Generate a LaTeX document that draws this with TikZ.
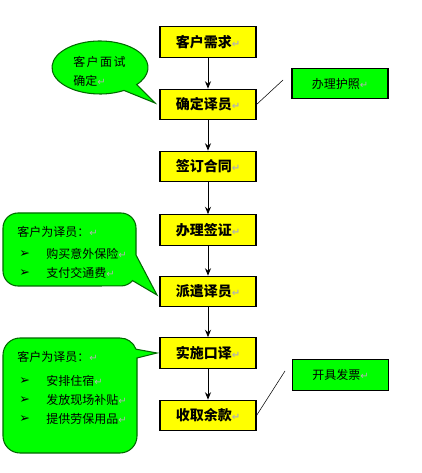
\documentclass[tikz,border=0pt]{standalone}
\usepackage{fontspec}
\usetikzlibrary{arrows.meta}
\newfontfamily\cjk{Noto Sans CJK SC}
\newfontfamily\symf{DejaVu Sans}
\definecolor{boxyellow}{RGB}{255,255,0}
\definecolor{taggreen}{RGB}{0,255,0}
\definecolor{rimgreen}{RGB}{0,105,0}
\newcommand{\pmk}{{\symf\fontsize{7.5}{7.5}\selectfont\color{gray!60}↵}}
\newcommand{\bul}{{\symf\fontsize{9.5}{9.5}\selectfont ➢}}
\tikzset{
  stepbox/.style={draw=black,line width=0.8pt,fill=boxyellow,minimum width=72pt,minimum height=23pt,inner sep=0pt,font=\cjk\bfseries\fontsize{10.5}{12}\selectfont},
  tagbox/.style={draw=black,line width=0.8pt,fill=taggreen,minimum width=72pt,minimum height=23pt,inner sep=0pt,font=\cjk\fontsize{9}{10}\selectfont},
  callout/.style={draw=rimgreen,line width=0.8pt,fill=taggreen},
  note/.style={anchor=west,inner sep=0pt,font=\cjk\fontsize{9}{10}\selectfont},
}
\begin{document}
\begin{tikzpicture}[x=0.75pt,y=-0.75pt,>={Stealth[length=5.5pt,width=4.5pt]}]
\useasboundingbox (0,0) rectangle (421,473);
% main flow
\node[stepbox] (need) at (208,42) {客户需求\pmk};
\node[stepbox] (pick) at (208,104.5) {确定译员\pmk};
\node[stepbox] (sign) at (208,166.5) {签订合同\pmk};
\node[stepbox] (visa) at (208,230) {办理签证\pmk};
\node[stepbox] (send) at (208,291.5) {派遣译员\pmk};
\node[stepbox] (work) at (208,353) {实施口译\pmk};
\node[stepbox] (rest) at (208,415.5) {收取余款\pmk};
\foreach \a/\b in {need/pick,pick/sign,sign/visa,visa/send,send/work,work/rest}
  \draw[->,line width=0.6pt] (\a) -- (\b);
% side tags
\node[tagbox] (passport) at (340,83.5) {办理护照\pmk};
\coordinate (pp) at (283,80);
\draw[line width=0.4pt] (pp) -- (pick.east);
\node[tagbox] (invoice) at (340.5,375) {开具发票\pmk};
\coordinate (iv) at (285,371);
\draw[line width=0.4pt] (iv) -- (rest.east);
% callouts
\draw[callout] (100,67.5) ++(60:48 and 26.5) arc[start angle=60,end angle=400,x radius=48,y radius=26.5] -- (155,103) -- cycle;
\node[note,font=\cjk\addfontfeature{LetterSpace=12}\fontsize{9}{10}\selectfont] (c1a) at (73,62) {客户面试};
\node[note] (c1b) at (73,81) {确定\pmk};
\draw[callout] (18,213) -- (121,213) arc[start angle=-90,end angle=0,radius=15] -- (136,255) -- (157,295) -- (132.5,280.6) arc[start angle=40,end angle=90,radius=15] -- (18,286) arc[start angle=90,end angle=180,radius=15] -- (3,228) arc[start angle=180,end angle=270,radius=15] -- cycle;
\node[note] (c2head) at (17,232) {客户为译员：\pmk};
\node[note] (c2b1) at (19,254) {\bul};
\node[note] (c2i1) at (46,254) {购买意外保险\pmk};
\node[note] (c2b2) at (19,273) {\bul};
\node[note] (c2i2) at (46,273) {支付交通费\pmk};
\draw[callout] (20,338) -- (120,338) arc[start angle=-90,end angle=-20,radius=17] -- (157,353) -- (137,358) -- (137,436) arc[start angle=0,end angle=90,radius=17] -- (20,453) arc[start angle=90,end angle=180,radius=17] -- (3,355) arc[start angle=180,end angle=270,radius=17] -- cycle;
\node[note] (c3head) at (17,357) {客户为译员：\pmk};
\node[note] (c3b1) at (19,381) {\bul};
\node[note] (c3i1) at (46,381) {安排住宿\pmk};
\node[note] (c3b2) at (19,400) {\bul};
\node[note] (c3i2) at (46,400) {发放现场补贴\pmk};
\node[note] (c3b3) at (19,419) {\bul};
\node[note] (c3i3) at (46,419) {提供劳保用品\pmk};
\end{tikzpicture}
\end{document}
